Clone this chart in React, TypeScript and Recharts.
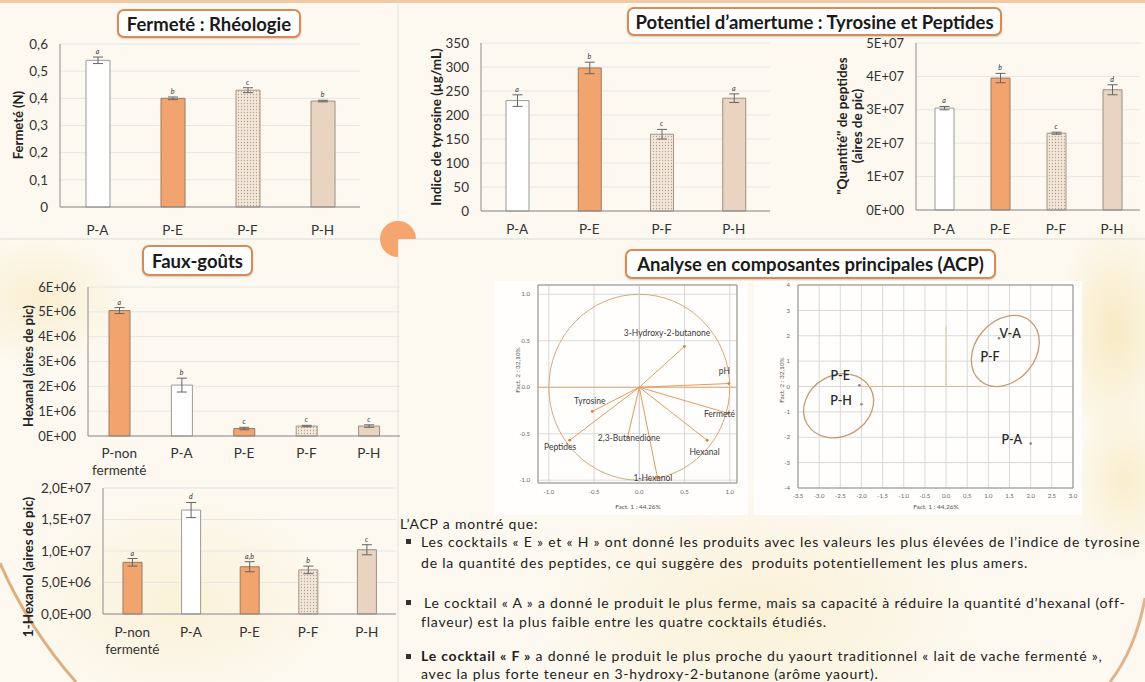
import React from "react";
import {
  ComposedChart,
  Bar,
  Line,
  XAxis,
  YAxis,
  CartesianGrid,
  ErrorBar,
  LabelList,
  Cell,
  ScatterChart,
  Scatter,
  ReferenceLine,
  ReferenceArea,
} from "recharts";

const FONT = "Lato, 'Open Sans', sans-serif";

// ---- Fermeté (N)
const fermeteCats = ["P-A", "P-E", "P-F", "P-H"];
const fermeteVals = [0.54, 0.4, 0.43, 0.39];
const fermeteErr = [0.012, 0.005, 0.009, 0.003];
const fermeteSig = ["a", "b", "c", "b"];
const fermeteTicks = [0, 0.1, 0.2, 0.3, 0.4, 0.5, 0.6];

// ---- Indice de tyrosine (µg/mL)
const tyrCats = ["P-A", "P-E", "P-F", "P-H"];
const tyrVals = [230, 298, 160, 235];
const tyrErr = [12, 12, 10, 9];
const tyrSig = ["a", "b", "c", "a"];
const tyrTicks = [0, 50, 100, 150, 200, 250, 300, 350];

// ---- Peptides (aires de pic)
const pepCats = ["P-A", "P-E", "P-F", "P-H"];
const pepVals = [3.05e7, 3.95e7, 2.3e7, 3.6e7];
const pepErr = [0.5e6, 1.4e6, 0.3e6, 1.5e6];
const pepSig = ["a", "b", "c", "d"];
const pepTicks = [0, 1e7, 2e7, 3e7, 4e7, 5e7];

// ---- Hexanal (aires de pic)
const hexalCats = ["P-non fermenté", "P-A", "P-E", "P-F", "P-H"];
const hexalVals = [5.05e6, 2.05e6, 0.3e6, 0.4e6, 0.4e6];
const hexalErr = [0.12e6, 0.28e6, 0.05e6, 0.03e6, 0.05e6];
const hexalSig = ["a", "b", "c", "c", "c"];
const hexalTicks = [0, 1e6, 2e6, 3e6, 4e6, 5e6, 6e6];

// ---- 1-Hexanol (aires de pic)
const hexolCats = ["P-non fermenté", "P-A", "P-E", "P-F", "P-H"];
const hexolVals = [8.2e6, 1.65e7, 7.5e6, 7.0e6, 1.02e7];
const hexolErr = [0.6e6, 1.2e6, 0.8e6, 0.6e6, 0.8e6];
const hexolSig = ["a", "d", "a,b", "b", "c"];
const hexolTicks = [0, 5e6, 1e7, 1.5e7, 2e7];

// ---- ACP : variables (cercle des corrélations)
const varNames = ["3-Hydroxy-2-butanone", "pH", "Fermeté", "Hexanal", "1-Hexanol", "2,3-Butanedione", "Tyrosine", "Peptides"];
const varF1 = [0.5, 0.99, 0.98, 0.75, 0.2, -0.13, -0.52, -0.77];
const varF2 = [0.44, 0.04, -0.28, -0.57, -0.97, -0.54, -0.26, -0.57];
const corrTicks = [-1, -0.5, 0, 0.5, 1];

// ---- ACP : individus
const obsNames = ["V-A", "P-F", "P-E", "P-H", "P-A"];
const obsF1 = [1.25, 0.85, -2.05, -2.0, 2.0];
const obsF2 = [1.9, 1.0, 0.05, -0.7, -2.25];
const indXTicks = [-3.5, -3, -2.5, -2, -1.5, -1, -0.5, 0, 0.5, 1, 1.5, 2, 2.5, 3];
const indYTicks = [-4, -3, -2, -1, 0, 1, 2, 3, 4];

// groupes entourés (centre, demi-axes en unités, rotation en degrés)
const groupEllipses = [
  { cx: 1.4, cy: 1.4, ax: 0.92, ay: 1.18, rot: -50 },
  { cx: -2.54, cy: -0.76, ax: 0.86, ay: 1.2, rot: -30 },
];

// ---- styles
const barStyle: Record<string, { fill: string; stroke: string }> = {
  "P-non fermenté": { fill: "#f2a46e", stroke: "#9c7a62" },
  "P-A": { fill: "#ffffff", stroke: "#9a9a9a" },
  "P-E": { fill: "#f2a46e", stroke: "#9c7a62" },
  "P-F": { fill: "DOTS", stroke: "#a49483" },
  "P-H": { fill: "#e8d4c0", stroke: "#9a8e82" },
};

const varLabelPos: Record<string, [number, number]> = {
  "3-Hydroxy-2-butanone": [-13, -9],
  pH: [0, -8],
  "Fermeté": [-4, 5],
  Hexanal: [2, 16],
  "1-Hexanol": [0, 5],
  "2,3-Butanedione": [6, 5],
  Tyrosine: [2, -6],
  Peptides: [-5, 11],
};

const obsLabelPos: Record<string, [number, number, string]> = {
  "V-A": [5, 0, "start"],
  "P-F": [3, 0, "start"],
  "P-E": [-5, -5, "end"],
  "P-H": [-5, 1, "end"],
  "P-A": [-4, 0, "end"],
};

function sci(v: number, dec: number) {
  if (v === 0) return (dec ? (0).toFixed(dec).replace(".", ",") : "0") + "E+00";
  const e = Math.floor(Math.log10(v) + 1e-9);
  const m = v / Math.pow(10, e);
  return m.toFixed(dec).replace(".", ",") + "E+" + String(e).padStart(2, "0");
}

function CatTick(props: any) {
  const { x, y, payload } = props;
  const parts = String(payload.value).split(" ");
  return (
    <text x={x} y={y} textAnchor="middle" fill="#333" fontSize={13.5} fontFamily={FONT}>
      {parts.map((p, i) => (
        <tspan key={i} x={x} dy={i === 0 ? "0.35em" : "1.3em"}>
          {p}
        </tspan>
      ))}
    </text>
  );
}

function BarPanel(props: any) {
  const { id, cats, vals, errs, sigs, ticks, fmt, left, top, width, height, yWidth, mTop, mRight, xHeight, labelGap, barSize, tickSize } = props;
  const data = cats.map((c: string, i: number) => ({ cat: c, v: vals[i], err: errs[i], top: vals[i] + errs[i], sig: sigs[i] }));
  const dots = `dots-${id}`;
  return (
    <div style={{ position: "absolute", left, top }}>
      <ComposedChart width={width} height={height} data={data} margin={{ top: mTop, right: mRight, bottom: 8, left: 0 }}>
        <defs>
          <pattern id={dots} width="3" height="3" patternUnits="userSpaceOnUse">
            <rect width="3" height="3" fill="#f1e7da" />
            <circle cx="1.5" cy="1.5" r="0.65" fill="#b7a28a" />
          </pattern>
        </defs>
        <CartesianGrid vertical={false} stroke="#e6e6e6" />
        <XAxis dataKey="cat" height={xHeight} interval={0} tickLine={false} tickSize={0} tickMargin={labelGap} axisLine={{ stroke: "#8c8c8c" }} tick={<CatTick />} />
        <YAxis
          width={yWidth}
          domain={[0, ticks[ticks.length - 1]]}
          ticks={ticks}
          interval={0}
          tickFormatter={fmt}
          tickLine={false}
          tickSize={0}
          tickMargin={12}
          axisLine={{ stroke: "#8c8c8c" }}
          tick={{ fontSize: tickSize, fill: "#333", fontFamily: FONT }}
        />
        <Bar dataKey="v" barSize={barSize} isAnimationActive={false}>
          {data.map((d: any) => {
            const s = barStyle[d.cat];
            return <Cell key={d.cat} fill={s.fill === "DOTS" ? `url(#${dots})` : s.fill} stroke={s.stroke} strokeWidth={1} />;
          })}
          <ErrorBar dataKey="err" width={5} stroke="#666" strokeWidth={1} direction="y" />
        </Bar>
        <Line dataKey="top" stroke="none" dot={false} activeDot={false} isAnimationActive={false}>
          <LabelList dataKey="sig" position="top" offset={3} style={{ fontSize: 7, fontStyle: "italic", fill: "#333", fontFamily: FONT }} />
        </Line>
      </ComposedChart>
    </div>
  );
}

function Title({ text, left, top, width, height }: any) {
  return (
    <div
      style={{
        position: "absolute",
        left,
        top,
        width,
        height,
        boxSizing: "border-box",
        border: "2px solid #d98b55",
        borderRadius: 7,
        background: "#fff",
        display: "flex",
        alignItems: "center",
        justifyContent: "center",
        fontFamily: FONT,
        fontWeight: 700,
        fontSize: 18.5,
        color: "#1a1a1a",
        boxShadow: "0 1px 2px rgba(0,0,0,0.18)",
        whiteSpace: "nowrap",
      }}
    >
      {text}
    </div>
  );
}

function RotLabel({ lines, cx, cy, size = 13, weight = 700, color = "#222", lh = 1.15 }: any) {
  return (
    <div
      style={{
        position: "absolute",
        left: cx,
        top: cy,
        transform: "translate(-50%, -50%) rotate(-90deg)",
        whiteSpace: "nowrap",
        fontFamily: FONT,
        fontSize: size,
        fontWeight: weight,
        color,
        textAlign: "center",
        lineHeight: lh,
      }}
    >
      {lines.map((l: string) => (
        <div key={l}>{l}</div>
      ))}
    </div>
  );
}

function EllipseShape(rot: number, stroke: string, sw: number) {
  return (p: any) => {
    const cx = p.x + p.width / 2;
    const cy = p.y + p.height / 2;
    return (
      <ellipse
        cx={cx}
        cy={cy}
        rx={Math.abs(p.width) / 2}
        ry={Math.abs(p.height) / 2}
        transform={`rotate(${rot} ${cx} ${cy})`}
        fill="none"
        stroke={stroke}
        strokeWidth={sw}
      />
    );
  };
}

const pcaTick = { fontSize: 6, fill: "#666", fontFamily: FONT };

function CorrCircle() {
  const data = varNames.map((n, i) => ({ name: n, x: varF1[i], y: varF2[i] }));
  const xd: [number, number] = [-1.12, 1.08];
  const yd: [number, number] = [-1.03, 1.1];
  return (
    <div style={{ position: "absolute", left: 495, top: 277 }}>
      <ScatterChart width={250} height={235} margin={{ top: 8, right: 8, bottom: 8, left: 0 }}>
        <CartesianGrid stroke="#d9d9d9" />
        <XAxis type="number" dataKey="x" domain={xd} ticks={corrTicks} interval={0} allowDataOverflow height={21} tickLine={false} tickSize={0} tickMargin={7} axisLine={false} tick={pcaTick} tickFormatter={(v: number) => v.toFixed(1)} />
        <YAxis type="number" dataKey="y" domain={yd} ticks={corrTicks} interval={0} allowDataOverflow width={43} tickLine={false} tickSize={0} tickMargin={8} axisLine={false} tick={pcaTick} tickFormatter={(v: number) => v.toFixed(1)} />
        <ReferenceArea x1={xd[0]} x2={xd[1]} y1={yd[0]} y2={yd[1]} fill="none" stroke="#8f8f8f" strokeWidth={1} />
        <ReferenceArea x1={-1} x2={1} y1={-1} y2={1} shape={EllipseShape(0, "#d9a77c", 1)} />
        <ReferenceLine y={0} stroke="#e3a878" strokeWidth={1} />
        <ReferenceLine x={0} stroke="#cfcfcf" strokeWidth={1} />
        {data.map((d) => (
          <ReferenceLine key={d.name} segment={[{ x: 0, y: 0 }, { x: d.x, y: d.y }]} stroke="#e69a5c" strokeWidth={1} />
        ))}
        <Scatter
          data={data}
          isAnimationActive={false}
          shape={(p: any) => <circle cx={p.cx} cy={p.cy} r={1.4} fill="#e07d3a" />}
        >
          <LabelList
            dataKey="name"
            content={(p: any) => {
              const off = varLabelPos[p.value] || [0, 0];
              return (
                <text x={p.x + off[0]} y={p.y + off[1]} textAnchor="middle" dominantBaseline="central" fontSize={8.5} fill="#3a3a3a" fontFamily={FONT}>
                  {p.value}
                </text>
              );
            }}
          />
        </Scatter>
      </ScatterChart>
    </div>
  );
}

function IndivPlot() {
  const data = obsNames.map((n, i) => ({ name: n, x: obsF1[i], y: obsF2[i] }));
  const xd: [number, number] = [-3.5, 3.0];
  const yd: [number, number] = [-4, 4];
  return (
    <div style={{ position: "absolute", left: 755, top: 277 }}>
      <ScatterChart width={325} height={235} margin={{ top: 8, right: 7, bottom: 8, left: 0 }}>
        <CartesianGrid stroke="#d9d9d9" />
        <XAxis type="number" dataKey="x" domain={xd} ticks={indXTicks} interval={0} allowDataOverflow height={16} tickLine={false} tickSize={0} tickMargin={6} axisLine={false} tick={pcaTick} tickFormatter={(v: number) => v.toFixed(1)} />
        <YAxis type="number" dataKey="y" domain={yd} ticks={indYTicks} interval={0} allowDataOverflow width={43} tickLine={false} tickSize={0} tickMargin={8} axisLine={false} tick={pcaTick} tickFormatter={(v: number) => String(v)} />
        <ReferenceArea x1={xd[0]} x2={xd[1]} y1={yd[0]} y2={yd[1]} fill="none" stroke="#8f8f8f" strokeWidth={1} />
        <ReferenceLine segment={[{ x: obsF1[2], y: 0 }, { x: obsF1[1], y: 0 }]} stroke="#e8b48a" strokeWidth={1} />
        <ReferenceLine segment={[{ x: 0, y: 0 }, { x: 0, y: 2.4 }]} stroke="#e8c4a4" strokeWidth={1} />
        {groupEllipses.map((g, i) => (
          <ReferenceArea key={i} x1={g.cx - g.ax} x2={g.cx + g.ax} y1={g.cy - g.ay} y2={g.cy + g.ay} shape={EllipseShape(g.rot, "#c79a74", 1.3)} />
        ))}
        <Scatter
          data={data}
          isAnimationActive={false}
          shape={(p: any) => <circle cx={p.cx} cy={p.cy} r={1.3} fill="#888" />}
        >
          <LabelList
            dataKey="name"
            content={(p: any) => {
              const off = obsLabelPos[p.value] || [0, 0, "start"];
              return (
                <text x={p.x + off[0]} y={p.y + off[1]} textAnchor={off[2]} dominantBaseline="central" fontSize={12.5} fontWeight={600} fill="#2a2a2a" fontFamily={FONT}>
                  {p.value}
                </text>
              );
            }}
          />
        </Scatter>
      </ScatterChart>
    </div>
  );
}

const textStyle: React.CSSProperties = {
  position: "absolute",
  whiteSpace: "nowrap",
  fontFamily: FONT,
  fontSize: 14,
  letterSpacing: "0.8px",
  lineHeight: "normal",
  color: "#222",
};

function Bullet({ y }: { y: number }) {
  return <div style={{ position: "absolute", left: 406, top: y - 2.5, width: 5, height: 5, background: "#333" }} />;
}

export default function App() {
  return (
    <div
      style={{
        position: "fixed",
        left: 0,
        top: 0,
        width: 1145,
        height: 682,
        overflow: "hidden",
        background:
          "radial-gradient(ellipse 80px 150px at 1115px 330px, rgba(243,222,160,0.55), transparent 75%), radial-gradient(ellipse 70px 110px at 1125px 480px, rgba(246,230,180,0.6), transparent 75%), radial-gradient(ellipse 220px 140px at 180px 600px, rgba(248,233,192,0.5), transparent 75%), radial-gradient(ellipse 300px 160px at 760px 610px, rgba(247,230,182,0.45), transparent 75%), radial-gradient(ellipse 120px 90px at 40px 300px, rgba(246,228,180,0.5), transparent 75%), #fdf9f0",
      }}
    >
      {/* séparateurs et décor */}
      <svg width={1145} height={682} style={{ position: "absolute", left: 0, top: 0 }}>
        <line x1={0} y1={1.5} x2={1145} y2={1.5} stroke="#f0c9a6" strokeWidth={3} />
        <line x1={0} y1={239} x2={1145} y2={239} stroke="#dcdcdc" strokeWidth={1} />
        <line x1={398} y1={0} x2={398} y2={682} stroke="#e2e2e2" strokeWidth={1} />
        <path d="M 0 563 A 458 458 0 0 0 76 682" fill="none" stroke="#d2955f" strokeWidth={3} opacity={0.75} />
        <path d="M 1145 598 Q 1136 648 1110 682" fill="none" stroke="#d2955f" strokeWidth={3} opacity={0.7} />
        <rect x={494} y={281} width={254} height={234} fill="#ffffff" opacity={0.85} />
        <rect x={754} y={281} width={328} height={234} fill="#ffffff" opacity={0.85} />
      </svg>

      <Title text="Fermeté : Rhéologie" left={117} top={9} width={184} height={29} />
      <Title text="Potentiel d’amertume : Tyrosine et Peptides" left={627} top={7} width={375} height={29} />
      <Title text="Faux-goûts" left={142} top={245} width={111} height={31} />
      <Title text="Analyse en composantes principales (ACP)" left={625} top={249} width={371} height={30} />

      <BarPanel id="f" cats={fermeteCats} vals={fermeteVals} errs={fermeteErr} sigs={fermeteSig} ticks={fermeteTicks}
        fmt={(v: number) => (v === 0 ? "0" : v.toFixed(1).replace(".", ","))}
        left={0} top={30} width={370} height={215} yWidth={60} mTop={14} mRight={10} xHeight={30} labelGap={23} barSize={24} tickSize={13.5} />
      <RotLabel lines={["Fermeté (N)"]} cx={18} cy={125} size={13} />

      <BarPanel id="t" cats={tyrCats} vals={tyrVals} errs={tyrErr} sigs={tyrSig} ticks={tyrTicks}
        fmt={(v: number) => String(v)}
        left={400} top={30} width={380} height={220} yWidth={81} mTop={13} mRight={10} xHeight={31} labelGap={18} barSize={23} tickSize={13.5} />
      <RotLabel lines={["Indice de tyrosine (µg/mL)"]} cx={437} cy={127} size={13.5} />

      <BarPanel id="p" cats={pepCats} vals={pepVals} errs={pepErr} sigs={pepSig} ticks={pepTicks}
        fmt={(v: number) => sci(v, 0)}
        left={790} top={30} width={355} height={220} yWidth={126} mTop={13} mRight={5} xHeight={32} labelGap={19} barSize={19} tickSize={13} />
      <RotLabel lines={["\"Quantité\" de peptides", "(aires de pic)"]} cx={850} cy={126} size={13.5} lh="15px" />

      <BarPanel id="hl" cats={hexalCats} vals={hexalVals} errs={hexalErr} sigs={hexalSig} ticks={hexalTicks}
        fmt={(v: number) => sci(v, 0)}
        left={0} top={270} width={400} height={210} yWidth={88} mTop={17} mRight={0} xHeight={36} labelGap={17} barSize={21} tickSize={13} />
      <RotLabel lines={["Hexanal (aires de pic)"]} cx={28} cy={366} size={13} />

      <BarPanel id="ho" cats={hexolCats} vals={hexolVals} errs={hexolErr} sigs={hexolSig} ticks={hexolTicks}
        fmt={(v: number) => sci(v, 1)}
        left={0} top={475} width={400} height={200} yWidth={103} mTop={13} mRight={4} xHeight={53} labelGap={18} barSize={19} tickSize={13.5} />
      <RotLabel lines={["1-Hexanol (aires de pic)"]} cx={29} cy={567} size={13.5} />

      <CorrCircle />
      <RotLabel lines={["Fact. 2 : 32,10%"]} cx={518} cy={370} size={6.5} weight={400} color="#555" />
      <div style={{ ...textStyle, fontSize: 6.5, letterSpacing: 0, lineHeight: "8px", color: "#555", left: 638, top: 507, transform: "translate(-50%, -50%)" }}>Fact. 1 : 44,26%</div>

      <IndivPlot />
      <RotLabel lines={["Fact. 2 : 32,10%"]} cx={782} cy={380} size={6.5} weight={400} color="#555" />
      <div style={{ ...textStyle, fontSize: 6.5, letterSpacing: 0, lineHeight: "8px", color: "#555", left: 936, top: 507, transform: "translate(-50%, -50%)" }}>Fact. 1 : 44,26%</div>

      {/* texte de conclusion */}
      <div style={{ ...textStyle, left: 400, top: 515.4 }}>L’ACP a montré que:</div>
      <Bullet y={541} />
      <div style={{ ...textStyle, left: 421, top: 533.2 }}>
        Les cocktails « E » et « H » ont donné les produits avec les valeurs les plus élevées de l’indice de tyrosine
      </div>
      <div style={{ ...textStyle, left: 421, top: 553.6 }}>
        de la quantité des peptides, ce qui suggère des&nbsp; produits potentiellement les plus amers.
      </div>
      <Bullet y={602} />
      <div style={{ ...textStyle, left: 424, top: 593.6 }}>
        Le cocktail « A » a donné le produit le plus ferme, mais sa capacité à réduire la quantité d’hexanal (off-
      </div>
      <div style={{ ...textStyle, left: 421, top: 612.6 }}>flaveur) est la plus faible entre les quatre cocktails étudiés.</div>
      <Bullet y={656} />
      <div style={{ ...textStyle, left: 421, top: 647.4 }}>
        <b>Le cocktail « F »</b> a donné le produit le plus proche du yaourt traditionnel « lait de vache fermenté »,
      </div>
      <div style={{ ...textStyle, left: 421, top: 665 }}>avec la plus forte teneur en 3-hydroxy-2-butanone (arôme yaourt).</div>

      {/* pastille centrale */}
      <svg width={40} height={40} style={{ position: "absolute", left: 378, top: 219 }}>
        <path d="M 20 20 L 20 38 A 18 18 0 1 1 38 20 Z" fill="#f4a66e" />
      </svg>
    </div>
  );
}
